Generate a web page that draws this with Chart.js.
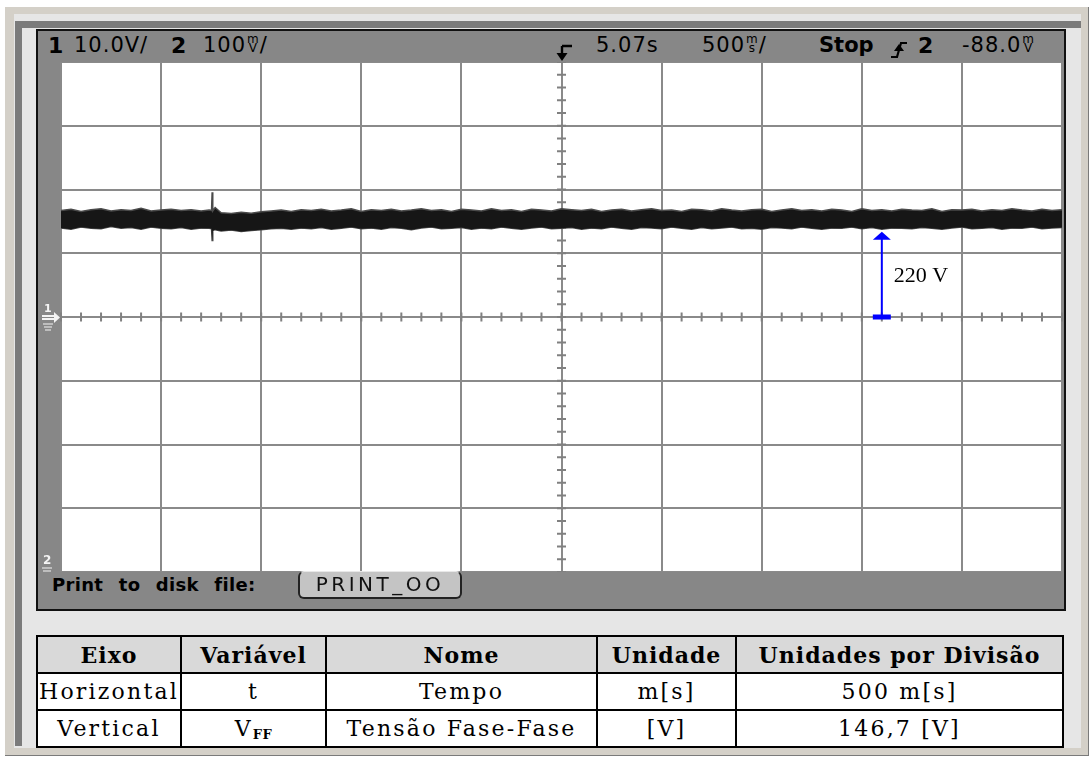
<!DOCTYPE html>
<html>
<head>
<meta charset="utf-8">
<script src="https://cdn.jsdelivr.net/npm/chart.js@4.4.1/dist/chart.umd.min.js"></script>
<style>
  html, body { margin: 0; padding: 0; background: #fff; }
  body { width: 1091px; height: 761px; position: relative; overflow: hidden; font-family: "DejaVu Sans", sans-serif; }
  .abs { position: absolute; }
  #beige { left: 5px; top: 7px; width: 1083px; height: 748px; background: #d4d0c8; border-right: 1px solid #7a7a7a; border-bottom: 1px solid #7a7a7a; }
  #inner { left: 14px; top: 14px; width: 1067px; height: 734px; background: #e6e6e6; }
  #darkTop { left: 15px; top: 21px; width: 1066px; height: 7px; background: #7b7b7b; }
  #darkLeft { left: 15px; top: 21px; width: 7px; height: 725px; background: #7b7b7b; }
  #screen { left: 36px; top: 29px; width: 1030px; height: 582px; background: #878787; border: 2px solid #111; box-sizing: border-box; }
  #scope { left: 38px; top: 62px; width: 1026px; height: 510px; }
  .hd { position: absolute; top: 35px; font-size: 21px; color: #000; white-space: nowrap; line-height: 21px; letter-spacing: 1px; }
  .hd b { font-size: 22px; letter-spacing: 0; }
  .stk { display: inline-block; font-size: 12px; line-height: 9px; text-align: center; letter-spacing: 0; margin: 0 1px; }
  .stk span { display: block; }
  #printLbl { left: 52px; top: 574px; font-size: 18px; font-weight: bold; word-spacing: 9px; letter-spacing: 0.3px; color: #000; }
  #printBox { left: 298px; top: 571px; width: 164px; height: 28px; box-sizing: border-box; background: #c4c4c4;
              border: 2px solid #222; border-top: 1px solid #e8e8e8; border-radius: 6px; font-size: 20px;
              letter-spacing: 3.5px; text-align: center; line-height: 25px; color: #111; }
  table { position: absolute; left: 36px; top: 635px; border-collapse: collapse; font-family: "DejaVu Serif", serif;
          font-size: 22px; color: #000; }
  td, th { border: 2px solid #000; height: 35px; padding: 0; text-align: center; }
  td { background: #fff; letter-spacing: 2.2px; }
  th { background: #d9d9d9; font-weight: bold; letter-spacing: 1px; }
  sub { font-size: 13px; font-weight: bold; vertical-align: -3px; letter-spacing: 0.5px; }
</style>
</head>
<body>
<div id="beige" class="abs"></div>
<div id="inner" class="abs"></div>
<div id="darkTop" class="abs"></div>
<div id="darkLeft" class="abs"></div>
<div id="screen" class="abs"></div>

<div class="hd" style="left:48px"><b>1</b></div>
<div class="hd" style="left:74px">10.0V/</div>
<div class="hd" style="left:171px"><b>2</b></div>
<div class="hd" style="left:203px">100<span class="stk"><span>m</span><span>V</span></span>/</div>
<svg class="abs" style="left:553px;top:42px" width="24" height="22">
  <path d="M9 4 H19 M9 4 V14" stroke="#000" stroke-width="2.4" fill="none"/>
  <path d="M3.5 11 L14.5 11 L9 19 Z" fill="#000"/>
</svg>
<div class="hd" style="left:596px">5.07s</div>
<div class="hd" style="left:702px">500<span class="stk"><span>m</span><span>s</span></span>/</div>
<div class="hd" style="left:819px;font-weight:bold;letter-spacing:0">Stop</div>
<svg class="abs" style="left:889px;top:39px" width="20" height="22">
  <path d="M2 18 H8 L12 4 H18" stroke="#000" stroke-width="2.2" fill="none"/>
  <path d="M5 12 L15 12 L10 5 Z" fill="#000"/>
</svg>
<div class="hd" style="left:918px"><b>2</b></div>
<div class="hd" style="left:962px">-88.0<span class="stk"><span>m</span><span>V</span></span></div>

<canvas id="scope" class="abs" width="1026" height="510"></canvas>

<div id="printLbl" class="abs">Print to disk file:</div>
<div id="printBox" class="abs">PRINT_OO</div>

<table>
  <tr><th style="width:142px">Eixo</th><th style="width:143px">Variável</th><th style="width:269px">Nome</th><th style="width:137px">Unidade</th><th style="width:325px">Unidades por Divisão</th></tr>
  <tr><td>Horizontal</td><td>t</td><td>Tempo</td><td>m[s]</td><td>500 m[s]</td></tr>
  <tr><td>Vertical</td><td>V<sub>FF</sub></td><td>Tensão Fase-Fase</td><td>[V]</td><td>146,7 [V]</td></tr>
</table>

<script>
// time in ms across the screen, volts on channel 1 (146,7 V per division)
const gridTimes = [0, 500, 1000, 1500, 2000, 2500, 3000, 3500, 4000, 4500, 5000];
const gridVolts = [-586.8, -440.1, -293.4, -146.7, 0, 146.7, 293.4, 440.1, 586.8];
const minorPerDiv = 5;

const traceTime = [
  0, 50, 100, 150, 200, 250, 300, 350, 400, 450,
  500, 550, 600, 650, 700, 740, 752, 755, 758, 770,
  800, 850, 900, 950, 1000, 1050, 1100, 1150, 1200, 1250,
  1300, 1350, 1400, 1450, 1500, 1550, 1600, 1650, 1700, 1750,
  1800, 1850, 1900, 1950, 2000, 2050, 2100, 2150, 2200, 2250,
  2300, 2350, 2400, 2450, 2500, 2550, 2600, 2650, 2700, 2750,
  2800, 2850, 2900, 2950, 3000, 3050, 3100, 3150, 3200, 3250,
  3300, 3350, 3400, 3450, 3500, 3550, 3600, 3650, 3700, 3750,
  3800, 3850, 3900, 3950, 4000, 4050, 4100, 4150, 4200, 4250,
  4300, 4350, 4400, 4450, 4500, 4550, 4600, 4650, 4700, 4750,
  4800, 4850, 4900, 4950, 5000
];
// upper edge of the noisy trace (V)
const traceTop = [
  245, 248, 243, 247, 249, 244, 247, 245, 250, 244,
  246, 248, 245, 247, 244, 246, 245, 287, 244, 252,
  240, 238, 241, 239, 242, 244, 246, 243, 247, 245,
  248, 244, 246, 249, 243, 247, 245, 248, 244, 246,
  249, 245, 247, 243, 248, 246, 244, 249, 245, 247,
  243, 248, 246, 244, 249, 247, 245, 248, 243, 246,
  248, 244, 247, 249, 245, 246, 243, 248, 247, 244,
  249, 246, 244, 247, 248, 243, 246, 249, 245, 247,
  244, 248, 246, 243, 249, 245, 247, 244, 248, 246,
  245, 249, 243, 247, 246, 248, 244, 247, 245, 249,
  246, 244, 248, 245, 247
];
// lower edge of the noisy trace (V)
const traceBottom = [
  205, 202, 207, 204, 203, 208, 204, 206, 202, 207,
  204, 203, 206, 202, 205, 204, 203, 176, 199, 201,
  198, 200, 197, 199, 201, 203, 204, 202, 205, 203,
  206, 202, 204, 207, 203, 205, 202, 206, 204, 201,
  205, 207, 203, 204, 206, 202, 205, 203, 207, 204,
  202, 205, 207, 203, 204, 206, 202, 205, 203, 207,
  204, 202, 206, 205, 203, 207, 204, 202, 206, 203,
  205, 207, 203, 204, 202, 206, 205, 203, 207, 204,
  202, 205, 204, 207, 203, 206, 202, 205, 204, 203,
  206, 204, 202, 205, 207, 203, 204, 206, 202, 205,
  204, 207, 203, 205, 206
];

// 220 V marker
const arrowTime = 4100;
const arrowFrom = 0;
const arrowTo = 196;
const arrowLabel = '220 V';

const scopePlugin = {
  id: 'scope',
  beforeDraw(chart) {
    const { ctx, chartArea: a } = chart;
    ctx.save();
    ctx.fillStyle = '#fff';
    ctx.fillRect(a.left, a.top, a.right - a.left, a.bottom - a.top);
    ctx.restore();
  },
  beforeDatasetsDraw(chart) {
    const { ctx, scales: { x, y } } = chart;
    const y0 = y.getPixelForValue(0);
    const xc = x.getPixelForValue(2500);
    ctx.save();
    ctx.strokeStyle = '#808080';
    ctx.lineWidth = 2;
    ctx.beginPath();
    const tStep = (gridTimes[1] - gridTimes[0]) / minorPerDiv;
    for (let t = gridTimes[0]; t <= gridTimes[gridTimes.length - 1]; t += tStep) {
      const px = x.getPixelForValue(t);
      ctx.moveTo(px, y0 - 4.5);
      ctx.lineTo(px, y0 + 4.5);
    }
    const vStep = (gridVolts[1] - gridVolts[0]) / minorPerDiv;
    for (let v = gridVolts[0]; v <= gridVolts[gridVolts.length - 1] + 0.01; v += vStep) {
      const py = y.getPixelForValue(v);
      ctx.moveTo(xc - 4.5, py);
      ctx.lineTo(xc + 4.5, py);
    }
    ctx.stroke();

    // channel 1 ground marker on the left strip
    ctx.fillStyle = '#f4f4f4';
    ctx.strokeStyle = '#f4f4f4';
    ctx.font = 'bold 11px "DejaVu Sans"';
    ctx.textAlign = 'left';
    ctx.textBaseline = 'alphabetic';
    ctx.fillText('1', 6, y0 - 5);
    ctx.lineWidth = 2;
    ctx.beginPath();
    ctx.moveTo(4, y0 - 1); ctx.lineTo(17, y0 - 1);
    ctx.moveTo(4, y0 + 2); ctx.lineTo(17, y0 + 2);
    ctx.stroke();
    ctx.beginPath();
    ctx.moveTo(16, y0 - 5); ctx.lineTo(22, y0 + 0.5); ctx.lineTo(16, y0 + 6);
    ctx.closePath();
    ctx.fill();
    ctx.lineWidth = 1;
    ctx.beginPath();
    ctx.moveTo(5, y0 + 7); ctx.lineTo(15, y0 + 7);
    ctx.moveTo(6, y0 + 10); ctx.lineTo(14, y0 + 10);
    ctx.moveTo(7, y0 + 13); ctx.lineTo(13, y0 + 13);
    ctx.stroke();

    // channel 2 ground marker at the bottom
    const yb = chart.chartArea.bottom;
    ctx.font = 'bold 12px "DejaVu Sans"';
    ctx.fillText('2', 5, yb - 8);
    ctx.beginPath();
    ctx.moveTo(4, yb - 4); ctx.lineTo(14, yb - 4);
    ctx.moveTo(5, yb - 1); ctx.lineTo(13, yb - 1);
    ctx.stroke();
    ctx.restore();
  },
  afterDatasetsDraw(chart) {
    const { ctx, scales: { x, y } } = chart;
    const ax = x.getPixelForValue(arrowTime);
    const yFrom = y.getPixelForValue(arrowFrom);
    const yTo = y.getPixelForValue(arrowTo);
    ctx.save();
    ctx.strokeStyle = '#0000ff';
    ctx.fillStyle = '#0000ff';
    ctx.lineWidth = 2;
    ctx.beginPath();
    ctx.moveTo(ax, yFrom);
    ctx.lineTo(ax, yTo + 6);
    ctx.stroke();
    ctx.beginPath();
    ctx.moveTo(ax, yTo);
    ctx.lineTo(ax - 9, yTo + 8);
    ctx.lineTo(ax + 9, yTo + 8);
    ctx.closePath();
    ctx.fill();
    ctx.fillRect(ax - 9, yFrom - 2.5, 18, 5);
    ctx.fillStyle = '#000';
    ctx.font = '22px "Liberation Serif"';
    ctx.textBaseline = 'middle';
    ctx.textAlign = 'left';
    ctx.fillText(arrowLabel, ax + 12, (yFrom + yTo) / 2 + 2);
    ctx.restore();
  }
};

const upper = traceTime.map((t, i) => ({ x: t, y: traceTop[i] }));
const lower = traceTime.map((t, i) => ({ x: t, y: traceBottom[i] }));

const gridOpts = { color: '#8a8a8a', lineWidth: 2, drawTicks: false };

new Chart(document.getElementById('scope').getContext('2d'), {
  type: 'line',
  data: {
    datasets: [
      {
        data: upper,
        borderColor: '#4a4a4a',
        borderWidth: 1.5,
        backgroundColor: '#161616',
        fill: '+1',
        pointRadius: 0,
        tension: 0
      },
      {
        data: lower,
        borderColor: '#4a4a4a',
        borderWidth: 1.5,
        fill: false,
        pointRadius: 0,
        tension: 0
      }
    ]
  },
  options: {
    responsive: false,
    animation: false,
    events: [],
    layout: { padding: { left: 23, right: 2, top: 0, bottom: 0 } },
    plugins: { legend: { display: false }, tooltip: { enabled: false } },
    scales: {
      x: {
        type: 'linear',
        min: 0,
        max: 5000,
        grid: gridOpts,
        border: { display: false },
        ticks: { display: false },
        afterBuildTicks: s => { s.ticks = gridTimes.map(v => ({ value: v })); }
      },
      y: {
        type: 'linear',
        min: -586.8,
        max: 586.8,
        grid: gridOpts,
        border: { display: false },
        ticks: { display: false },
        afterBuildTicks: s => { s.ticks = gridVolts.map(v => ({ value: v })); }
      }
    }
  },
  plugins: [scopePlugin]
});
</script>
</body>
</html>
